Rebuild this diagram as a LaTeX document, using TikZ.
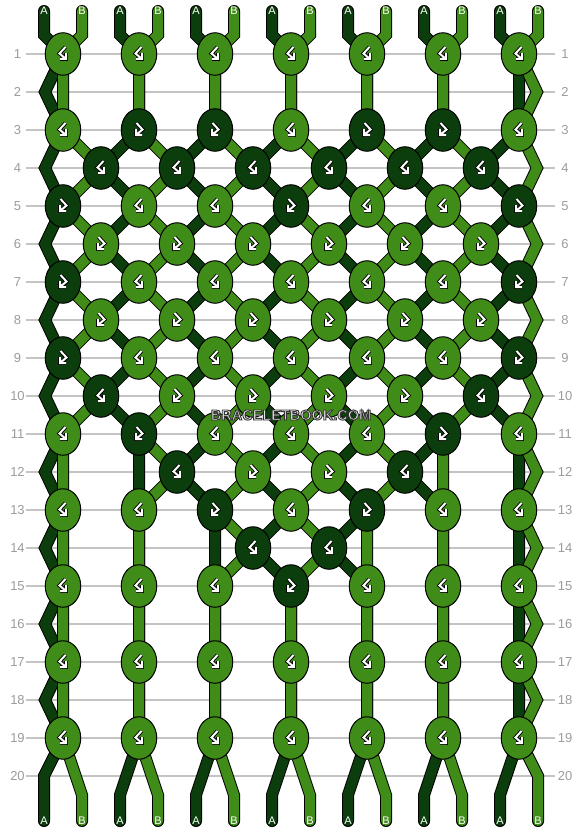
\documentclass[tikz,border=0pt]{standalone}
\usepackage{fontspec}
\setmainfont{Liberation Sans}
\usetikzlibrary{shapes.geometric}
\definecolor{lg}{HTML}{408C18}
\definecolor{dg}{HTML}{0C3D0C}
\definecolor{gridgrey}{HTML}{C4C4C4}
\definecolor{numgrey}{HTML}{9C9C9C}
\definecolor{wmlight}{HTML}{E6E6E6}
\newcommand\addpt[1]{\xdef\mypath{\mypath -- (#1)}}
\def\bfpath{(2.5,-7) -- (-3.5,-0.5) -- (3,5) (-3,5) -- (3,5) -- (3,-1)}
\def\fbpath{(-2.5,-7) -- (3.5,-0.5) -- (-3,5) (3,5) -- (-3,5) -- (-3,-1)}
\newcommand\outlinedtext[1]{\special{pdf:literal direct 2 Tr 0.9 w 0.2 0.2 0.2 RG}#1\special{pdf:literal direct 0 Tr}}
\tikzset{
  stroutline/.style={line width=12pt, draw=black, line join=miter, line cap=round},
  strA/.style={line width=10pt, draw=dg, line join=miter, line cap=round},
  strB/.style={line width=10pt, draw=lg, line join=miter, line cap=round},
  knotbase/.style={ellipse, draw=black, line width=1pt, minimum width=35.5pt, minimum height=42.5pt, inner sep=0pt, outer sep=0pt},
  knotL/.style={knotbase, fill=lg},
  knotD/.style={knotbase, fill=dg},
  icout/.style={line width=3.8pt, draw=black, line join=miter, line cap=butt},
  icin/.style={line width=2pt, draw=white, line join=miter, line cap=butt},
  bf/.pic={\draw[icout] \bfpath; \draw[icin] \bfpath;},
  fb/.pic={\draw[icout] \fbpath; \draw[icin] \fbpath;},
  gridline/.style={draw=gridgrey, line width=1.3pt},
  rownum/.style={text=numgrey, font=\fontsize{13}{15}\selectfont, inner sep=0pt},
  strlabel/.style={text=white, font=\fontsize{11}{13}\selectfont, inner sep=0pt},
  wmtext/.style={font=\fontsize{14.5}{16}\selectfont\bfseries, inner sep=0pt},
}
\begin{document}
\begin{tikzpicture}[x=1pt,y=-1pt]
\fill[white] (0,0) rectangle (582,832);
\useasboundingbox (0,0) rectangle (582,832);
% coordinates
\foreach \r in {1,3,...,19}{\foreach \j in {0,...,6}{\coordinate (c\r-\j) at ({63+76*\j},{54+38*(\r-1)});}}
\foreach \r in {2,4,...,20}{%
  \foreach \j in {0,...,5}{\coordinate (c\r-\j) at ({101+76*\j},{54+38*(\r-1)});}
  \coordinate (eL\r) at (45,{54+38*(\r-1)});
  \coordinate (eR\r) at (537,{54+38*(\r-1)});
}
\coordinate (eL20) at (44,776);
\coordinate (eR20) at (538,776);
\foreach \i in {0,...,6}{%
  \coordinate (sA\i) at ({44+76*\i},11);
  \coordinate (tA\i) at ({44+76*\i},35);
  \coordinate (bA\i) at ({44+76*\i},795);
  \coordinate (zA\i) at ({44+76*\i},821);
  \coordinate (sB\i) at ({82+76*\i},11);
  \coordinate (tB\i) at ({82+76*\i},35);
  \coordinate (bB\i) at ({82+76*\i},795);
  \coordinate (zB\i) at ({82+76*\i},821);
}
% grid lines and row numbers
\foreach \r in {1,...,20}{%
  \pgfmathsetmacro\yy{54+38*(\r-1)}
  \coordinate (gl\r) at (26,\yy);
  \coordinate (gr\r) at (555,\yy);
  \draw[gridline] (gl\r) -- (gr\r);
  \node[rownum] (nl\r) at (17.5,\yy) {\r};
  \node[rownum] (nr\r) at (565,\yy) {\r};
}
% strings
\foreach \i in {0,...,6}{%
  \xdef\mypath{(sA\i) -- (tA\i) -- (c1-\i)}%
  \foreach \e/\lo/\hi in {2/9/-1,4/0/5,6/0/5,8/0/5,10/0/5,12/1/4,14/2/3,16/9/-1,18/9/-1}{%
    \ifnum\i=0 \addpt{eL\e}\else
      \pgfmathtruncatemacro\kk{\i-1}%
      \ifnum\kk<\lo\relax\else\ifnum\kk>\hi\relax\else\addpt{c\e-\kk}\fi\fi
    \fi
    \pgfmathtruncatemacro\oo{\e+1}%
    \addpt{c\oo-\i}%
  }%
  \ifnum\i=0 \addpt{eL20}\else\addpt{bA\i}\fi
  \addpt{zA\i}%
  \draw[stroutline] \mypath;
  \draw[strA] \mypath;
  \xdef\mypath{(sB\i) -- (tB\i) -- (c1-\i)}%
  \foreach \e/\lo/\hi in {2/9/-1,4/0/5,6/0/5,8/0/5,10/0/5,12/1/4,14/2/3,16/9/-1,18/9/-1}{%
    \ifnum\i=6 \addpt{eR\e}\else
      \ifnum\i<\lo\relax\else\ifnum\i>\hi\relax\else\addpt{c\e-\i}\fi\fi
    \fi
    \pgfmathtruncatemacro\oo{\e+1}%
    \addpt{c\oo-\i}%
  }%
  \ifnum\i=6 \addpt{eR20}\else\addpt{bB\i}\fi
  \addpt{zB\i}%
  \draw[stroutline] \mypath;
  \draw[strB] \mypath;
}
% knots, odd rows
\foreach \r/\cols in {1/{L,L,L,L,L,L,L},3/{L,D,D,L,D,D,L},5/{D,L,L,D,L,L,D},7/{D,L,L,L,L,L,D},9/{D,L,L,L,L,L,D},11/{L,D,L,L,L,D,L},13/{L,L,D,L,D,L,L},15/{L,L,L,D,L,L,L},17/{L,L,L,L,L,L,L},19/{L,L,L,L,L,L,L}}{%
  \foreach \c [count=\j from 0] in \cols {%
    \if L\c
      \node[knotL] (k\r-\j) at (c\r-\j) {};
      \pic at (c\r-\j) {bf};
    \else
      \node[knotD] (k\r-\j) at (c\r-\j) {};
      \pic at (c\r-\j) {fb};
    \fi
  }%
}
% knots, even rows
\foreach \r/\cols in {4/{D,D,D,D,D,D},6/{L,L,L,L,L,L},8/{L,L,L,L,L,L},10/{D,L,L,L,L,D},12/{N,D,L,L,D,N},14/{N,N,D,D,N,N}}{%
  \foreach \c [count=\j from 0] in \cols {%
    \if N\c\else
      \if L\c
        \node[knotL] (k\r-\j) at (c\r-\j) {};
        \pic at (c\r-\j) {fb};
      \else
        \node[knotD] (k\r-\j) at (c\r-\j) {};
        \pic at (c\r-\j) {bf};
      \fi
    \fi
  }%
}
% string labels
\foreach \i in {0,...,6}{%
  \node[strlabel] (ta\i) at (sA\i) {A};
  \node[strlabel] (tb\i) at (sB\i) {B};
  \node[strlabel] (ba\i) at (zA\i) {A};
  \node[strlabel] (bb\i) at (zB\i) {B};
}
% watermark
\node[wmtext, text=wmlight] (wm) at (291,415) {\outlinedtext{BRACELETBOOK.COM}};
\end{tikzpicture}
\end{document}
